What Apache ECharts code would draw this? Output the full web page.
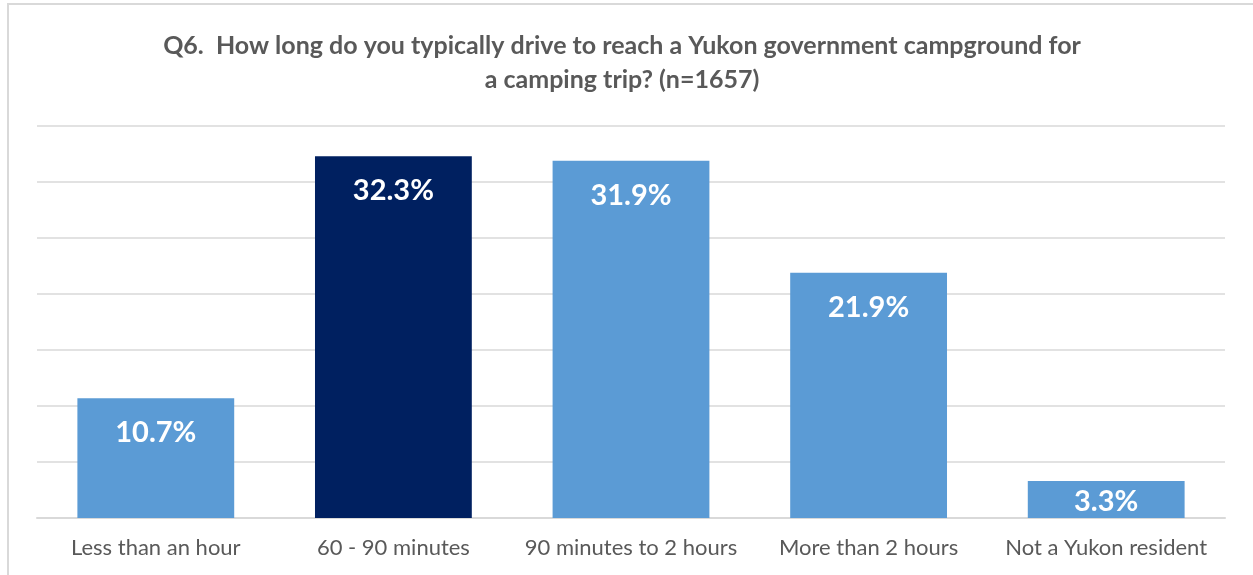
<!DOCTYPE html>
<html><head><meta charset="utf-8">
<script src="https://cdn.jsdelivr.net/npm/echarts@6/dist/echarts.min.js"></script>
<style>
html,body{margin:0;padding:0;background:#fff;}
#frame{position:absolute;left:7px;top:3px;width:1260px;height:600px;border:2px solid #d9d9d9;box-sizing:border-box;}
#chart{position:absolute;left:0;top:0;width:1253px;height:575px;}
</style></head>
<body>
<div id="frame"></div>
<div id="chart"></div>
<script>
const categories = ['Less than an hour','60 - 90 minutes','90 minutes to 2 hours','More than 2 hours','Not a Yukon resident'];
const values = [10.7, 32.3, 31.9, 21.9, 3.3];
const highlightIndex = 1;
const titleText = 'Q6.  How long do you typically drive to reach a Yukon government campground for\na camping trip? (n=1657)';

const chart = echarts.init(document.getElementById('chart'));
const data = values.map((v,i)=>({
  value: v,
  itemStyle: {color: i===highlightIndex ? '#002060' : '#5B9BD5'},
  label: {distance: v < 5 ? 6 : 20}
}));
chart.setOption({
  animation:false,
  title:{text:titleText,left:617,top:24,textAlign:'center',
    textStyle:{fontFamily:'Lato',fontWeight:'bold',fontSize:25,color:'#595959',lineHeight:34}},
  grid:{left:37,right:28,top:126,bottom:57},
  xAxis:{type:'category',data:categories,
    axisLine:{lineStyle:{color:'#d9d9d9',width:2}},axisTick:{show:false},
    axisLabel:{interval:0,fontFamily:'Lato',fontSize:22,color:'#595959',margin:19}},
  yAxis:{type:'value',min:0,max:35,interval:5,
    axisLabel:{show:false},axisLine:{show:false},axisTick:{show:false},
    splitLine:{lineStyle:{color:'#d9d9d9',width:1.5}}},
  series:[{type:'bar',data:data,barWidth:'66%',
    label:{show:true,position:'insideTop',formatter:p=>p.value.toFixed(1)+'%',
      fontFamily:'Lato',fontWeight:'bold',fontSize:29,color:'#fff'}}]
});
</script>
</body></html>
